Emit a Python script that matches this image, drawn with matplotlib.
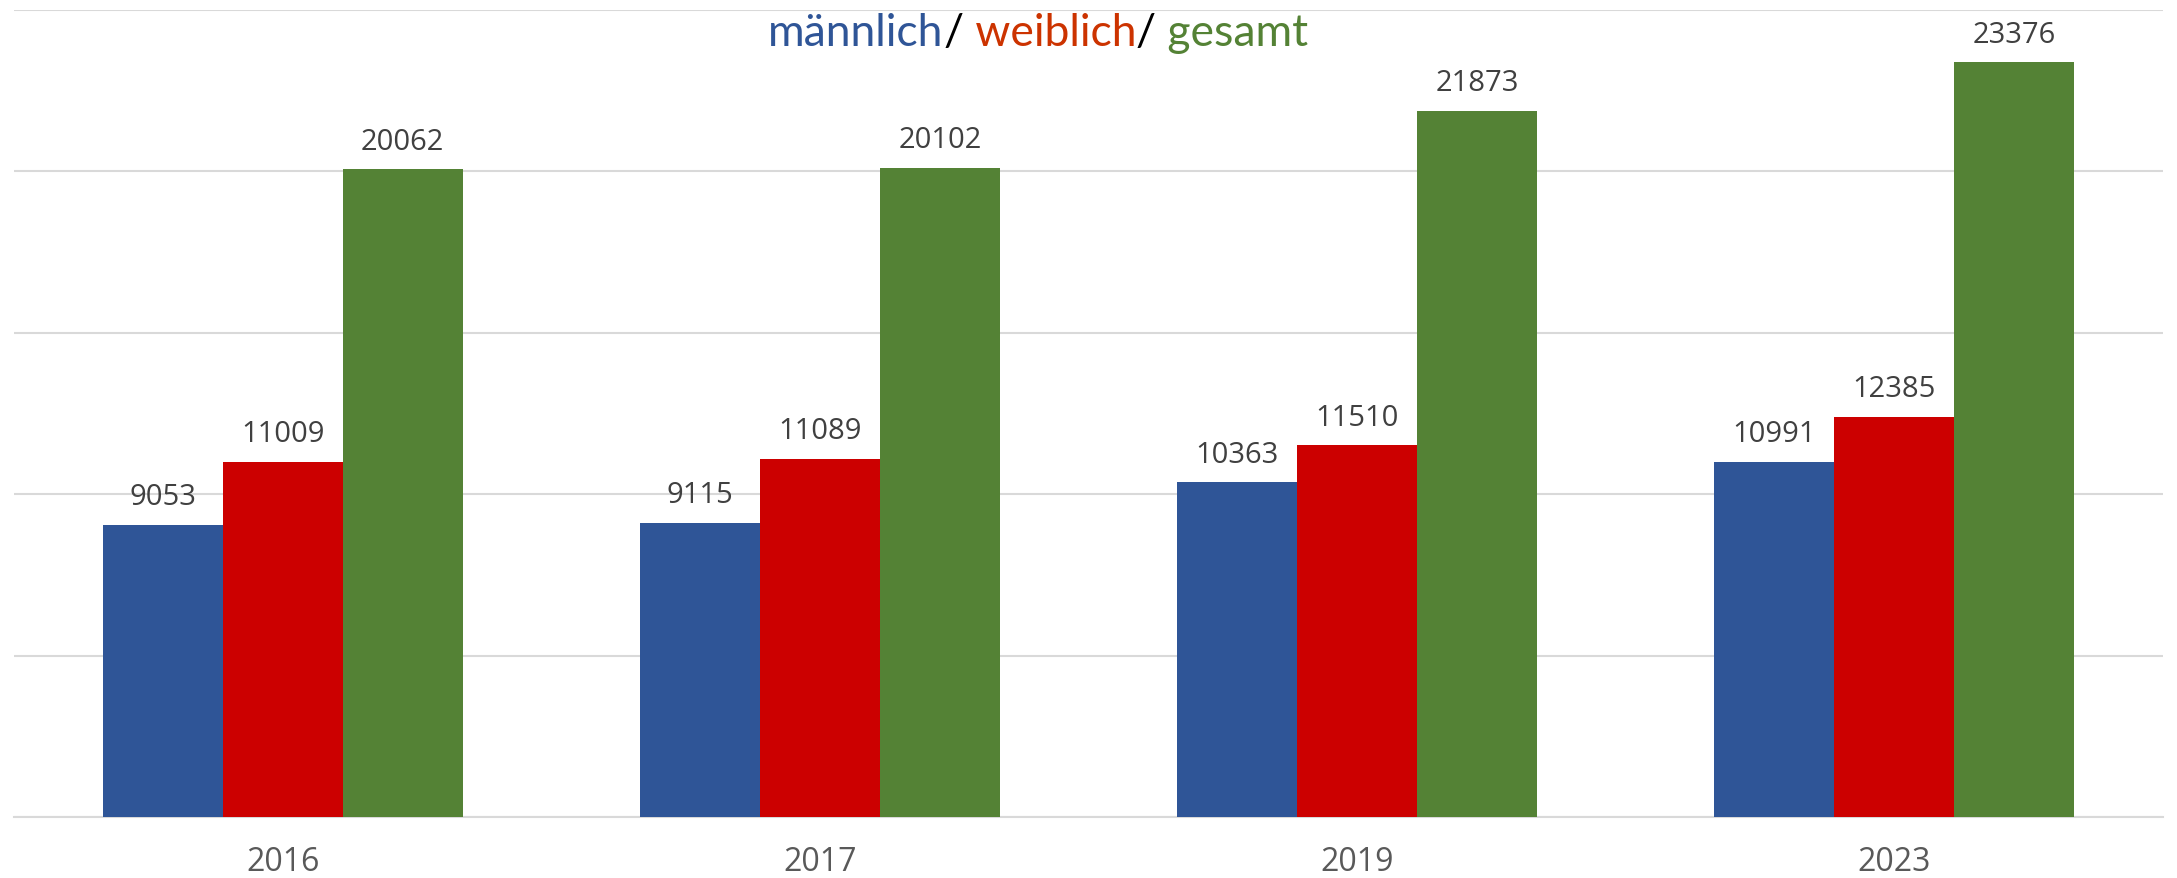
import matplotlib
matplotlib.use("Agg")
import matplotlib.pyplot as plt
import numpy as np

years = ["2016", "2017", "2019", "2023"]
maennlich = [9053, 9115, 10363, 10991]
weiblich = [11009, 11089, 11510, 12385]
gesamt = [20062, 20102, 21873, 23376]

series = [maennlich, weiblich, gesamt]
colors = ["#2F5597", "#CC0000", "#548235"]

plt.rcParams['font.family'] = ['Open Sans', 'DejaVu Sans']

W, H = 2177, 879
fig = plt.figure(figsize=(W / 100, H / 100), dpi=100)
ax = fig.add_axes([14 / W, 1 - 818 / H, (2163 - 14) / W, (818 - 11) / H])

x = np.arange(len(years))
bw = 0.2234
for i, (vals, c) in enumerate(zip(series, colors)):
    pos = x + (i - 1) * bw
    bars = ax.bar(pos, vals, width=bw, color=c, zorder=3)
    for b, v in zip(bars, vals):
        ax.annotate(str(v), (b.get_x() + b.get_width() / 2, v),
                    xytext=(0, 10), textcoords="offset points",
                    ha="center", va="bottom", fontsize=21, color="#404040")

ax.set_xlim(-0.5, 3.5)
ax.set_ylim(0, 25000)
ax.set_yticks(np.arange(0, 25001, 5000))
ax.yaxis.grid(True, color="#D9D9D9", linewidth=1.5, zorder=0)
ax.set_axisbelow(True)
ax.tick_params(axis="y", left=False, labelleft=False)
ax.set_xticks(x)
ax.set_xticklabels(years, fontsize=23, color="#595959")
ax.tick_params(axis="x", length=0, pad=20)
for s in ["top", "right", "left"]:
    ax.spines[s].set_visible(False)
ax.spines["bottom"].set_color("#D9D9D9")
ax.spines["bottom"].set_linewidth(1.5)

# multi-coloured title
parts = [("männlich", "#2F5597"), ("/", "#000000"), (" weiblich", "#CC3300"),
         ("/", "#000000"), (" gesamt", "#548235")]
fs = 32
t = fig.text(768 / W, 1 - 34 / H, parts[0][0], color=parts[0][1], fontsize=fs,
             ha="left", va="center", family=['Lato', 'DejaVu Sans'])
prev = t
for txt, col in parts[1:]:
    prev = ax.annotate(txt, xy=(1, 0), xycoords=prev, xytext=(0, 0),
                       textcoords="offset points", ha="left", va="bottom",
                       color=col, fontsize=fs, family=['Lato', 'DejaVu Sans'],
                       annotation_clip=False)

fig.savefig("out.png", dpi=100)
